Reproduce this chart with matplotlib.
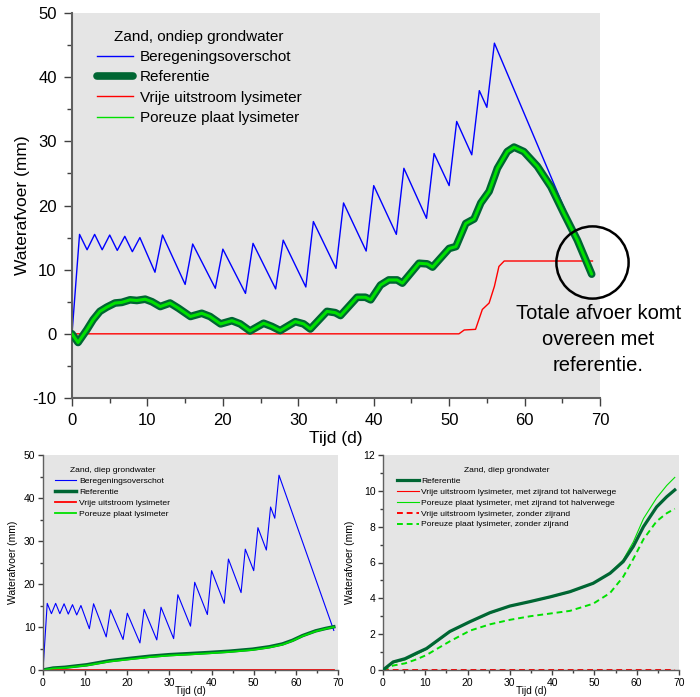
import matplotlib
matplotlib.use("Agg")
import matplotlib.pyplot as plt
from matplotlib.ticker import MultipleLocator

plt.rcParams.update({"font.family": ["Liberation Sans", "DejaVu Sans"], "axes.facecolor": "#e5e5e5",
                     "axes.unicode_minus": False})

# --- data: main chart (Zand, ondiep grondwater) ---
bereg_x = [0, 1, 2, 3, 4, 5, 6, 7, 8, 9, 11, 12, 15, 16, 19, 20, 23, 24, 27, 28, 31, 32, 35, 36,
           39, 40, 43, 44, 47, 48, 50, 51, 53, 54, 55, 56, 69]
bereg_y = [0, 15.5, 13.1, 15.5, 13.1, 15.4, 13.0, 15.2, 12.8, 15.0, 9.6, 15.4, 7.7, 14.0, 7.1, 13.2,
           6.3, 14.1, 7.0, 14.6, 7.3, 17.5, 10.2, 20.4, 12.9, 23.1, 15.5, 25.8, 18.0, 28.1, 23.1,
           33.1, 27.9, 37.9, 35.3, 45.3, 9.2]
ref_x = [0, 0.8, 1.95, 2.8, 3.7, 4.6, 5.7, 6.6, 7.7, 8.6, 9.7, 10.6, 11.7, 13.0, 14.1, 15.7, 17.2,
         18.3, 19.7, 21.2, 22.3, 23.6, 25.4, 26.5, 27.6, 29.6, 30.7, 31.6, 33.8, 34.9, 35.6, 37.8,
         38.9, 39.6, 40.9, 42.0, 43.1, 43.8, 46.0, 47.1, 47.8, 50.0, 50.9, 52.2, 53.3, 54.2, 55.3,
         56.4, 57.7, 58.6, 59.9, 61.7, 63.5, 65.2, 67.0, 68.9]
ref_y = [0, -1.35, 0.6, 2.2, 3.5, 4.15, 4.8, 4.9, 5.3, 5.2, 5.4, 5.0, 4.25, 4.8, 4.0, 2.7, 3.2,
         2.7, 1.55, 2.05, 1.55, 0.45, 1.65, 1.15, 0.5, 1.9, 1.55, 0.75, 3.5, 3.3, 2.85, 5.7,
         5.7, 5.3, 7.6, 8.4, 8.4, 7.9, 11.0, 10.9, 10.4, 13.3, 13.6, 17.2, 17.9, 20.4, 22.2,
         25.8, 28.4, 29.1, 28.4, 26.1, 22.9, 18.8, 14.6, 9.3]
poreus_y = ref_y  # poreuze plaat valt samen met referentie
vrij_x = [0, 51.3, 52.0, 53.5, 54.4, 55.3, 56.0, 56.6, 57.3, 69.0]
vrij_y = [0, 0, 0.6, 0.7, 3.8, 4.8, 7.4, 10.5, 11.35, 11.35]

# --- data: lower charts (Zand, diep grondwater) ---
diep_x = [0, 2.4, 5.2, 8, 10.3, 15.8, 20.6, 25.3, 30, 34.8, 39.5, 44.2, 49.7, 53.7, 56.8, 59.2,
          61.6, 64.7, 67.1, 69]
diep_ref = [0, 0.45, 0.63, 0.95, 1.2, 2.15, 2.7, 3.2, 3.57, 3.82, 4.08, 4.37, 4.84, 5.4, 6.05,
            6.9, 8.0, 9.1, 9.67, 10.05]
diep_poreus = [0, 0.35, 0.5, 0.82, 1.05, 1.98, 2.5, 3.0, 3.38, 3.62, 3.9, 4.2, 4.67, 5.25, 5.9,
               6.78, 7.9, 9.0, 9.6, 10.0]
diep_poreus_zijrand = [0, 0.4, 0.56, 0.88, 1.15, 2.12, 2.68, 3.17, 3.55, 3.8, 4.05, 4.34, 4.82,
                       5.42, 6.15, 7.15, 8.45, 9.6, 10.3, 10.75]
diep_poreus_zonder = [0, 0.25, 0.37, 0.6, 0.84, 1.6, 2.2, 2.55, 2.8, 3.0, 3.15, 3.3, 3.7, 4.3,
                      5.2, 6.2, 7.3, 8.3, 8.75, 9.0]
diep_vrij_x = [0, 69]
diep_vrij_y = [0, 0]

BLUE, DGREEN, RED, LIME = "#0000ff", "#006633", "#ff0000", "#00e000"
W, H = 700, 697

def style(ax, fs, major_y, minor_y, tl, pad):
    for s in ("top", "right"):
        ax.spines[s].set_visible(False)
    for s in ("left", "bottom"):
        ax.spines[s].set_color("#606060")
        ax.spines[s].set_linewidth(1.5 if fs > 10 else 1.0)
    ax.xaxis.set_major_locator(MultipleLocator(10)); ax.xaxis.set_minor_locator(MultipleLocator(5))
    ax.yaxis.set_major_locator(MultipleLocator(major_y)); ax.yaxis.set_minor_locator(MultipleLocator(minor_y))
    ax.tick_params(which="major", length=tl, width=1, color="#404040", labelsize=fs, pad=pad)
    ax.tick_params(which="minor", length=tl * 0.6, width=1, color="#404040")

fig = plt.figure(figsize=(7, 6.97), dpi=100)

# main chart
ax = fig.add_axes([72 / W, 1 - 398 / H, (600 - 72) / W, (398 - 13) / H])
ax.plot(bereg_x, bereg_y, color=BLUE, lw=1.0, label="Beregeningsoverschot")
ax.plot(vrij_x, vrij_y, color=RED, lw=1.0, zorder=2)
ax.plot(ref_x, ref_y, color=DGREEN, lw=5.5, solid_capstyle="round", label="Referentie", zorder=3)
ax.plot(ref_x, poreus_y, color=LIME, lw=2.2, solid_capstyle="round", zorder=4)
h = ax.get_legend_handles_labels()[0]
lr, = ax.plot([], [], color=RED, lw=1.0)
lg, = ax.plot([], [], color=LIME, lw=1.0)
ax.legend([h[0], h[1], lr, lg],
          ["Beregeningsoverschot", "Referentie", "Vrije uitstroom lysimeter", "Poreuze plaat lysimeter"],
          title="Zand, ondiep grondwater", loc="upper left", bbox_to_anchor=(0.035, 0.973),
          frameon=False, fontsize=11, title_fontsize=11, labelspacing=0.42, handlelength=2.4,
          handletextpad=0.45, borderaxespad=0)
ax.set_xlim(0, 70); ax.set_ylim(-10, 50)
style(ax, 12, 10, 5, 6, 5)
ax.set_xlabel("Tijd (d)", fontsize=12.5, labelpad=2)
ax.set_ylabel("Waterafvoer (mm)", fontsize=12.5, labelpad=2)
ax.plot([69], [11.2], "o", ms=52, mfc="none", mec="black", mew=1.8, clip_on=False, zorder=5)
ax.text(69.8, 4.6, "Totale afvoer komt\novereen met\nreferentie.", ha="center", va="top",
        fontsize=14.5, linespacing=1.45)

# lower left
a1 = fig.add_axes([43 / W, 1 - 670 / H, (338 - 43) / W, (670 - 455) / H])
a1.plot(bereg_x, bereg_y, color=BLUE, lw=0.8, label="Beregeningsoverschot")
a1.plot(diep_x, diep_ref, color=DGREEN, lw=2.5, label="Referentie")
a1.plot(diep_vrij_x, diep_vrij_y, color=RED, lw=1.3, label="Vrije uitstroom lysimeter")
a1.plot(diep_x, diep_poreus, color=LIME, lw=1.3, label="Poreuze plaat lysimeter")
a1.legend(title="Zand, diep grondwater", loc="upper left", bbox_to_anchor=(0.03, 0.96), frameon=False,
          fontsize=6.1, title_fontsize=6.1, labelspacing=0.35, handlelength=2.5,
          handletextpad=0.35, borderaxespad=0)
a1.set_xlim(0, 70); a1.set_ylim(0, 50)
style(a1, 7.5, 10, 5, 3.5, 2)
a1.set_xlabel("Tijd (d)", fontsize=7.2, labelpad=-1)
a1.set_ylabel("Waterafvoer (mm)", fontsize=7.5, labelpad=4)

# lower right
a2 = fig.add_axes([383 / W, 1 - 670 / H, (679 - 383) / W, (670 - 455) / H])
a2.plot(diep_x, diep_ref, color=DGREEN, lw=2.3, label="Referentie", zorder=4)
a2.plot(diep_vrij_x, diep_vrij_y, color=RED, lw=0.8, label="Vrije uitstroom lysimeter, met zijrand tot halverwege")
a2.plot(diep_x, diep_poreus_zijrand, color=LIME, lw=0.8, label="Poreuze plaat lysimeter, met zijrand tot halverwege")
a2.plot(diep_vrij_x, diep_vrij_y, color=RED, lw=1.4, ls=(0, (3, 2)), label="Vrije uitstroom lysimeter, zonder zijrand")
a2.plot(diep_x, diep_poreus_zonder, color=LIME, lw=1.4, ls=(0, (3, 2)), label="Poreuze plaat lysimeter, zonder zijrand")
a2.legend(title="Zand, diep grondwater", loc="upper left", bbox_to_anchor=(0.035, 0.96), frameon=False,
          fontsize=6.1, title_fontsize=6.1, labelspacing=0.35, handlelength=2.6,
          handletextpad=0.3, borderaxespad=0)
a2.set_xlim(0, 70); a2.set_ylim(0, 12)
style(a2, 7.5, 2, 1, 3.5, 2)
a2.set_xlabel("Tijd (d)", fontsize=7.2, labelpad=-1)
a2.set_ylabel("Waterafvoer (mm)", fontsize=7.5, labelpad=6)

fig.savefig("out.png", dpi=100)
